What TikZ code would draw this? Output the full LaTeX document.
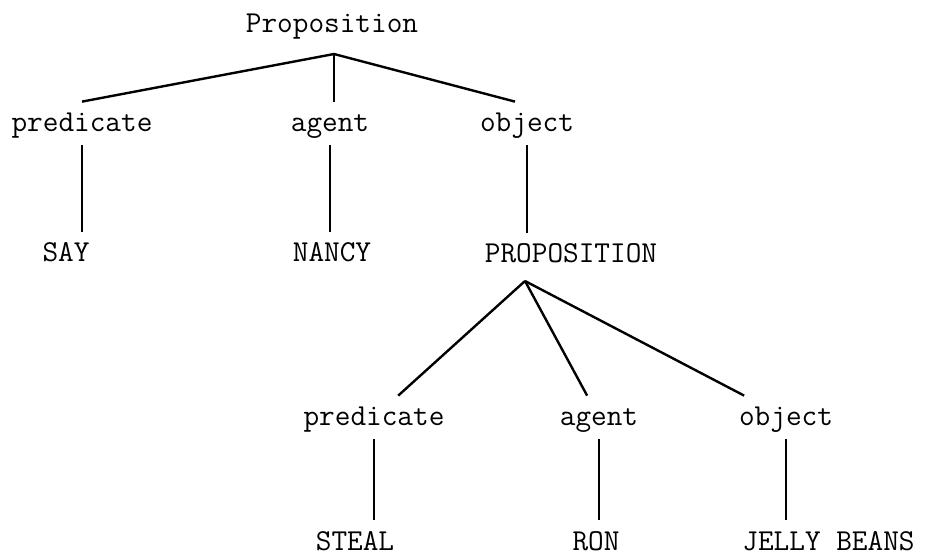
\documentclass[tikz,border=0pt]{standalone}
\usepackage{tikz}

\begin{document}
\begin{tikzpicture}[x=0.5pt,y=-0.5pt,
  word/.style={font=\fontsize{15.2}{18}\selectfont\ttfamily, inner xsep=0pt,
    inner ysep=2.5pt, text height=12pt, text depth=4.5pt, anchor=base},
  leaf/.style={word, inner ysep=0pt, text height=15pt, text depth=0pt},
  branch/.style={line width=1.2pt}]
  \useasboundingbox (0,0) rectangle (927,554);
  %upper proposition
  \node[word] (prop) at (332,32) {Proposition};
  \coordinate (top) at (334,54);
  \node[word] (pred1) at (82,131) {predicate};
  \node[word] (agent1) at (330,131) {agent};
  \node[word] (obj1) at (527,131) {object};
  \node[word] (say) at (66,261) {SAY};
  \node[word] (nancy) at (332,261) {NANCY};
  \node[word] (prop2) at (571,262) {PROPOSITION};
  %lower proposition
  \coordinate (sub) at (525,281);
  \node[word] (pred2) at (374,425) {predicate};
  \node[word] (agent2) at (599,425) {agent};
  \node[word] (obj2) at (786,425) {object};
  \node[leaf] (steal) at (355,550) {STEAL};
  \node[leaf] (ron) at (596,550) {RON};
  \node[leaf,anchor=base west] (jelly) at (742,550) {JELLY BEANS};
  \draw[branch] (pred1.north) -- (top) -- ([xshift=-6pt]obj1.north);
  \draw[branch] (top) -- (top |- agent1.north);
  \foreach \a/\b in {pred1/say,agent1/nancy,obj1/prop2,pred2/steal,agent2/ron,obj2/jelly}
    \draw[branch] (\a.south) -- (\a.south |- \b.north);
  \foreach \b in {pred2,agent2,obj2}
    \draw[branch] (sub) -- (\b);
\end{tikzpicture}
\end{document}
